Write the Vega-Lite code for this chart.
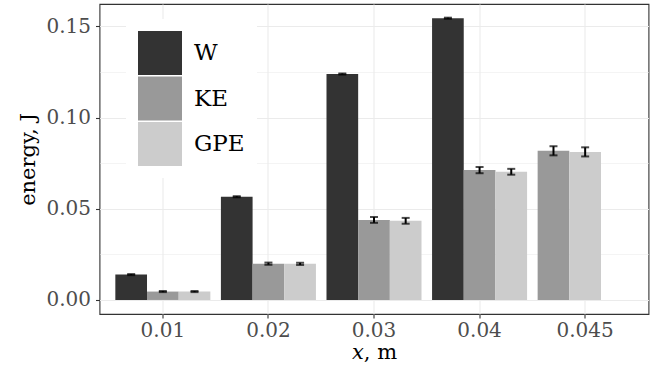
{
  "$schema": "https://vega.github.io/schema/vega-lite/v6.json",
  "width": 549,
  "height": 310,
  "autosize": {"type": "none"},
  "padding": {"left": 99.5, "top": 4, "right": 8.5, "bottom": 54},
  "background": "white",
  "config": {
    "font": "DejaVu Serif",
    "view": {"stroke": "#333333", "strokeWidth": 1.1},
    "axis": {"domain": false, "gridColor": "#EBEBEB", "gridWidth": 1.1, "tickColor": "#333333", "tickWidth": 1.1, "labelColor": "#4D4D4D", "titleColor": "black", "titleFontWeight": "normal"}
  },
  "data": {
    "values": [
      {"x": "0.01", "type": "W", "energy": 0.0139, "lo": 0.0136, "hi": 0.0142},
      {"x": "0.01", "type": "KE", "energy": 0.0046, "lo": 0.0043, "hi": 0.0049},
      {"x": "0.01", "type": "GPE", "energy": 0.0046, "lo": 0.0043, "hi": 0.0049},
      {"x": "0.02", "type": "W", "energy": 0.0566, "lo": 0.0563, "hi": 0.0569},
      {"x": "0.02", "type": "KE", "energy": 0.0199, "lo": 0.0193, "hi": 0.0205},
      {"x": "0.02", "type": "GPE", "energy": 0.0198, "lo": 0.0192, "hi": 0.0204},
      {"x": "0.03", "type": "W", "energy": 0.1239, "lo": 0.1236, "hi": 0.1242},
      {"x": "0.03", "type": "KE", "energy": 0.0439, "lo": 0.0423, "hi": 0.0455},
      {"x": "0.03", "type": "GPE", "energy": 0.0434, "lo": 0.0418, "hi": 0.0450},
      {"x": "0.04", "type": "W", "energy": 0.1545, "lo": 0.1542, "hi": 0.1548},
      {"x": "0.04", "type": "KE", "energy": 0.0712, "lo": 0.0695, "hi": 0.0729},
      {"x": "0.04", "type": "GPE", "energy": 0.0703, "lo": 0.0687, "hi": 0.0719},
      {"x": "0.045", "type": "KE", "energy": 0.0818, "lo": 0.0793, "hi": 0.0843},
      {"x": "0.045", "type": "GPE", "energy": 0.0812, "lo": 0.0787, "hi": 0.0837}
    ]
  },
  "transform": [
    {"calculate": "indexof(['W','KE','GPE'], datum.type)", "as": "ord"},
    {"window": [{"op": "row_number", "as": "slot"}], "groupby": ["x"], "sort": [{"field": "ord", "order": "ascending"}]}
  ],
  "encoding": {
    "x": {
      "field": "x", "type": "ordinal", "sort": ["0.01", "0.02", "0.03", "0.04", "0.045"],
      "scale": {"paddingInner": 0.1, "paddingOuter": 0.15},
      "axis": {"title": "𝑥, m", "labelAngle": 0, "labelFontSize": 20, "titleFontSize": 21, "tickSize": 4, "labelPadding": 2, "titlePadding": 1, "bandPosition": 0.5, "grid": true}
    },
    "xOffset": {"field": "slot", "type": "ordinal", "scale": {"paddingInner": 0, "paddingOuter": 0}}
  },
  "resolve": {"axis": {"y": "independent"}},
  "layer": [
    {
      "mark": {"type": "bar"},
      "encoding": {
        "y": {
          "field": "energy", "type": "quantitative",
          "scale": {"domain": [-0.0077, 0.1623], "nice": false, "zero": false},
          "axis": {"title": "energy, J", "values": [0, 0.05, 0.1, 0.15], "format": ".2f", "labelFontSize": 20, "titleFontSize": 21, "tickSize": 4, "labelPadding": 5, "titlePadding": 7, "grid": true}
        },
        "fill": {
          "field": "type", "type": "nominal",
          "scale": {"domain": ["W", "KE", "GPE"], "range": ["#333333", "#999999", "#CCCCCC"]},
          "legend": {
            "title": null, "orient": "none", "legendX": 26.5, "legendY": 15,
            "symbolType": "square", "symbolSize": 1936, "symbolStrokeWidth": 0, "symbolOpacity": 1,
            "labelFontSize": 23, "labelColor": "black", "labelOffset": 12, "rowPadding": 1.5,
            "padding": 12, "fillColor": "white"
          }
        }
      }
    },
    {
      "mark": {"type": "rule", "color": "black", "strokeWidth": 2},
      "encoding": {
        "y": {"field": "lo", "type": "quantitative", "axis": {"title": null, "values": [0.025, 0.075, 0.125], "grid": true, "gridWidth": 0.55, "labels": false, "ticks": false, "orient": "left"}},
        "y2": {"field": "hi"}
      }
    },
    {
      "mark": {"type": "tick", "color": "black", "size": 8, "thickness": 2},
      "encoding": {"y": {"field": "lo", "type": "quantitative", "axis": null}}
    },
    {
      "mark": {"type": "tick", "color": "black", "size": 8, "thickness": 2},
      "encoding": {"y": {"field": "hi", "type": "quantitative", "axis": null}}
    }
  ]
}
